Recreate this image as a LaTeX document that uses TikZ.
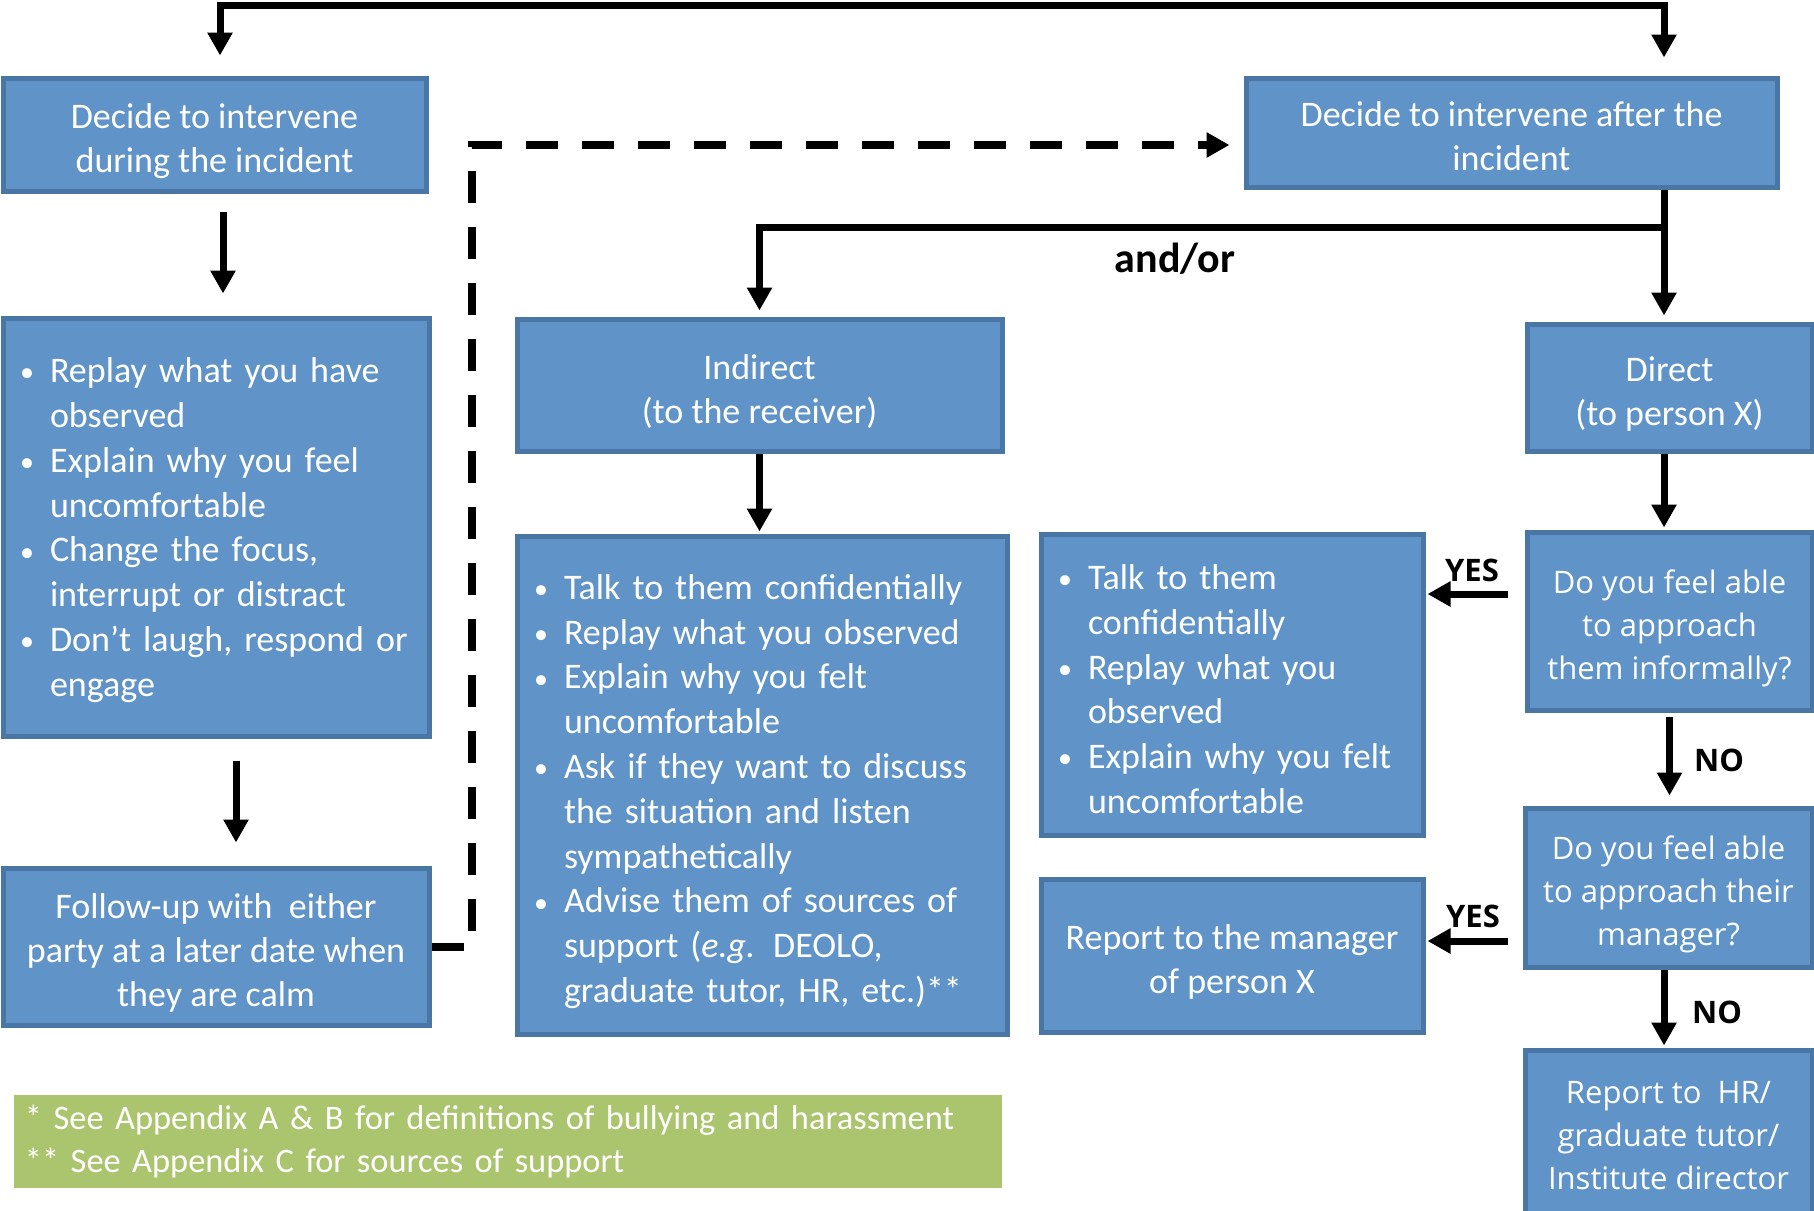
\documentclass[tikz,border=0pt]{standalone}
\usepackage{fontspec}
\setmainfont{Carlito}
\newfontfamily\qfont{Open Sans}
\usetikzlibrary{arrows.meta}
\usetikzlibrary{shadows}

\definecolor{boxblue}{HTML}{6094C8}
\definecolor{boxedge}{HTML}{4A76A6}
\definecolor{notegreen}{HTML}{ABC46E}

\newcommand{\bitem}[1]{\par\noindent\makebox[15pt][l]{\raisebox{0.4pt}{\fontsize{14}{14}\selectfont\textbullet}}\mbox{#1}}
\newcommand{\bmore}[1]{\newline\hspace*{15pt}\mbox{#1}}
\newcommand{\highstrut}{\rule{0pt}{19pt}}
\newcommand{\lowstrut}[1]{\rule[-#1]{0pt}{0pt}}

\tikzset{
  >={Triangle[length=11.5pt,width=12pt]},
  box/.style={draw=boxedge, line width=2.5pt, fill=boxblue, text=white, inner sep=0pt,
    align=center, font=\fontsize{18}{22}\selectfont},
  listbox/.style={box, align=left, inner xsep=8.5pt, inner ysep=0pt, font=\fontsize{18}{22.4}\selectfont},
  qbox/.style={font=\qfont\fontsize{15.5}{21.5}\selectfont},
  arr/.style={line width=3.5pt, ->},
  dasharr/.style={arr, line width=4pt, dash pattern=on 16pt off 12pt},
  yesno/.style={font=\qfont\bfseries\fontsize{15.5}{17}\selectfont}
}

\begin{document}
\begin{tikzpicture}[x=0.5pt, y=-0.5pt]
        \useasboundingbox (0,0) rectangle (1814,1210);

        % left column: during the incident
        \node[box, minimum width=211.5pt, minimum height=56.5pt] (during) at (214.5,134.5) {\highstrut Decide to intervene\\during the incident};
        \node[listbox, text width=196pt, minimum height=209pt] (replay) at (216,527) {%
          \bitem{Replay what you have}\bmore{observed}
          \bitem{Explain why you feel}\bmore{uncomfortable}
          \bitem{Change the focus,}\bmore{interrupt or distract}
          \bitem{Don’t laugh, respond or}\bmore{engage}\lowstrut{10pt}};
        \node[box, minimum width=213pt, minimum height=78.5pt] (follow) at (216,946.5) {\highstrut Follow-up with\ \ either\\party at a later date when\\they are calm};

        % after the incident
        \node[box, minimum width=265.5pt, minimum height=54.5pt] (after) at (1511.5,132.5) {\highstrut Decide to intervene after the\\incident\lowstrut{3pt}};
        \node[box, minimum width=242.5pt, minimum height=66pt] (indirect) at (759.5,385) {\highstrut Indirect\\(to the receiver)};
        \node[listbox, text width=228pt, minimum height=249pt] (tips) at (762,785) {%
          \bitem{Talk to them confidentially}
          \bitem{Replay what you observed}
          \bitem{Explain why you felt}\bmore{uncomfortable}
          \bitem{Ask if they want to discuss}\bmore{the situation and listen}\bmore{sympathetically}
          \bitem{Advise them of sources of}\bmore{support (\textit{e.g.} DEOLO,}\bmore{graduate tutor, HR, etc.)**}\lowstrut{6.5pt}};
        \node[listbox, text width=174pt, minimum height=150.5pt] (talk) at (1232,684.5) {%
          \bitem{Talk to them}\bmore{confidentially}
          \bitem{Replay what you}\bmore{observed}
          \bitem{Explain why you felt}\bmore{uncomfortable}\lowstrut{5.5pt}};
        \node[box, minimum width=191pt, minimum height=76.5pt] (manager) at (1232,955.5) {\highstrut Report to the manager\\of person X};

        % right column
        \node[box, minimum width=142.5pt, minimum height=63.5pt] (direct) at (1669.5,387.5) {\highstrut Direct\\(to person X)};
        \node[box, qbox, minimum width=142.5pt, minimum height=89pt] (informal) at (1669.5,621) {\highstrut Do you feel able\\to approach\\them informally?};
        \node[box, qbox, minimum width=143.5pt, minimum height=79.5pt] (theirmgr) at (1668.5,887.5) {\highstrut Do you feel able\\to approach their\\manager?};
        \node[box, qbox, minimum width=143.5pt, minimum height=85pt] (hr) at (1668.5,1135) {\highstrut Report to\ \ HR/\\graduate tutor/\\Institute director\lowstrut{8pt}};

        \node[draw=white, line width=3.5pt, fill=notegreen, text=white, inner xsep=7.5pt,
          text width=482.5pt, minimum height=50pt, align=left, font=\fontsize{17.2}{21.5}\selectfont,
          drop shadow={shadow xshift=1pt, shadow yshift=-1.5pt, opacity=0.35}] (note) at (507.5,1141.5)
          {* See Appendix A \& B for definitions of bullying and harassment\\{}** See Appendix C for sources of support};

        % connectors
        \coordinate (topL) at (220,5);
        \coordinate (topR) at (1664,5);
        \coordinate (split) at (1664,227);
        \coordinate (dashturn) at (472,145);

        \draw[arr, <->, shorten <=10pt, shorten >=9pt] (during.north -| topL) |- (topR) -- (after.north -| topR);
        \draw[arr, shorten <=9pt, shorten >=11pt] ([xshift=4.25pt]during.south) -- ([xshift=4.25pt]during.south |- replay.north);
        \draw[arr, shorten <=11pt, shorten >=11.5pt] ([xshift=10pt]replay.south) -- ([xshift=10pt]replay.south |- follow.north);
        \draw[dasharr, shorten >=7pt] (follow.east) -| (dashturn) -- (after.west |- dashturn);

        \draw[arr, shorten >=3pt] (after.south -| split) -- (direct.north -| split);
        \draw[arr, shorten >=3pt] (split) -| (indirect.north);
        \node[font=\bfseries\fontsize{21}{24}\selectfont] (andor) at (1175,259) {and/or};
        \draw[arr, shorten >=1pt] (indirect.south) -- (indirect.south |- tips.north);

        \draw[arr, shorten >=1pt] (direct.south -| split) -- (informal.north -| split);
        \draw[arr, shorten <=2pt, shorten >=5pt] (informal.south) -- (informal.south |- theirmgr.north);
        \node[yesno] (no1) at (1719,760) {NO};
        \draw[arr, shorten >=1pt] (theirmgr.south -| split) -- (hr.north -| split);
        \node[yesno] (no2) at (1717,1012) {NO};
        \draw[arr, shorten <=8.5pt, shorten >=1pt] ([yshift=13.5pt]informal.west) -- ([yshift=13.5pt]informal.west -| talk.east);
        \node[yesno] (yes1) at (1472,570) {YES};
        \draw[arr, shorten <=7.5pt, shorten >=1pt] ([yshift=-26.75pt]theirmgr.west) -- ([yshift=-26.75pt]theirmgr.west -| manager.east);
        \node[yesno] (yes2) at (1473,916) {YES};
\end{tikzpicture}
\end{document}
